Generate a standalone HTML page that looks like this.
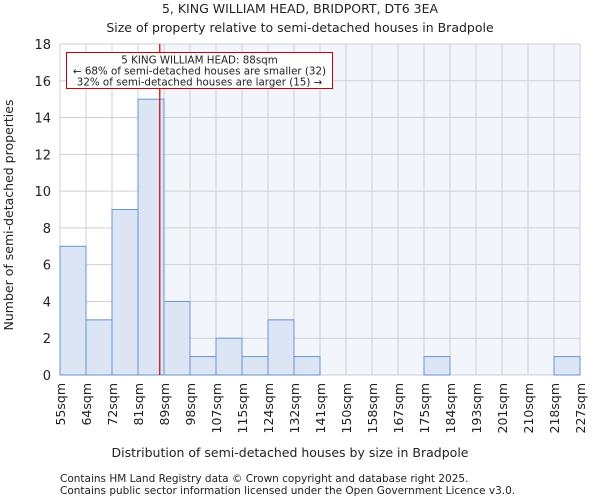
<!DOCTYPE html>
<html><head><meta charset="utf-8"><style>
body{margin:0;background:#fff;font-family:"DejaVu Sans","Liberation Sans",sans-serif}
svg text{font-family:"DejaVu Sans","Liberation Sans",sans-serif;fill:#222}
</style></head><body>
<svg id="chart" width="600" height="500">
<text x="300" y="13" text-anchor="middle" font-size="12.5">5, KING WILLIAM HEAD, BRIDPORT, DT6 3EA</text>
<text x="300" y="32" text-anchor="middle" font-size="12.5">Size of property relative to semi-detached houses in Bradpole</text>
<g id="plot"></g>
<text x="290" y="457" text-anchor="middle" font-size="12.5">Distribution of semi-detached houses by size in Bradpole</text>
<text transform="translate(13,215) rotate(-90)" text-anchor="middle" font-size="12.5">Number of semi-detached properties</text>
<text x="60" y="482" font-size="10.5" fill="#444">Contains HM Land Registry data © Crown copyright and database right 2025.</text>
<text x="60" y="494" font-size="10.5" fill="#444">Contains public sector information licensed under the Open Government Licence v3.0.</text>
</svg>
<script>
const binLabels=["55sqm","64sqm","72sqm","81sqm","89sqm","98sqm","107sqm","115sqm","124sqm","132sqm","141sqm","150sqm","158sqm","167sqm","175sqm","184sqm","193sqm","201sqm","210sqm","218sqm","227sqm"];
const binEdges=[55,63.6,72.2,80.8,89.4,98,106.6,115.2,123.8,132.4,141,149.6,158.2,166.8,175.4,184,192.6,201.2,209.8,218.4,227];
const counts=[7,3,9,15,4,1,2,1,3,1,0,0,0,0,1,0,0,0,0,1];
const yTicks=[0,2,4,6,8,10,12,14,16,18];
const subjectSize=88;
const L=60,R=580,T=44,B=375;
const xs=v=>L+(v-binEdges[0])/(binEdges[binEdges.length-1]-binEdges[0])*(R-L);
const ys=v=>B-v/18*(B-T);
const NS="http://www.w3.org/2000/svg";
const g=document.getElementById('plot');
function mk(t,a){const e=document.createElementNS(NS,t);for(const k in a)e.setAttribute(k,a[k]);g.appendChild(e);return e;}
const sx=xs(subjectSize);
let e=mk('rect',{x:sx,y:T,width:R-sx,height:B-T,fill:'#f2f5fc'});


binEdges.forEach(v=>{const l=mk('line',{x1:xs(v),x2:xs(v),y1:T,y2:B,stroke:'#d0d0d0','stroke-width':1});

});
yTicks.forEach(v=>{const l=mk('line',{x1:L,x2:R,y1:ys(v),y2:ys(v),stroke:'#d0d0d0','stroke-width':1});


const t=mk('text',{x:L-9,y:ys(v)+5,'text-anchor':'end','font-size':13});t.textContent=v;

});
counts.forEach((c,i)=>{if(!c)return;const x0=xs(binEdges[i]),x1=xs(binEdges[i+1]);
const r=mk('rect',{x:x0,y:ys(c),width:x1-x0,height:ys(0)-ys(c),fill:'#dbe5f4',stroke:'#6a93d4','stroke-width':1});

});
binLabels.forEach((s,i)=>{const x=xs(binEdges[i]);const t=mk('text',{transform:`translate(${x+5},${B+8}) rotate(-90)`,'text-anchor':'end','font-size':12.5});t.textContent=s;

});
const ln=mk('line',{x1:sx,x2:sx,y1:T,y2:B,stroke:'#cc0000','stroke-width':1.2});


const bx=mk('rect',{x:66.5,y:52.5,width:266,height:36,fill:'#fff',stroke:'#cc0000','stroke-width':1});


["5 KING WILLIAM HEAD: 88sqm","← 68% of semi-detached houses are smaller (32)","32% of semi-detached houses are larger (15) →"].forEach((s,i)=>{
const t=mk('text',{x:199.5,y:63.5+i*11,'text-anchor':'middle','font-size':10.3});t.textContent=s;

});
</script>
</body></html>
